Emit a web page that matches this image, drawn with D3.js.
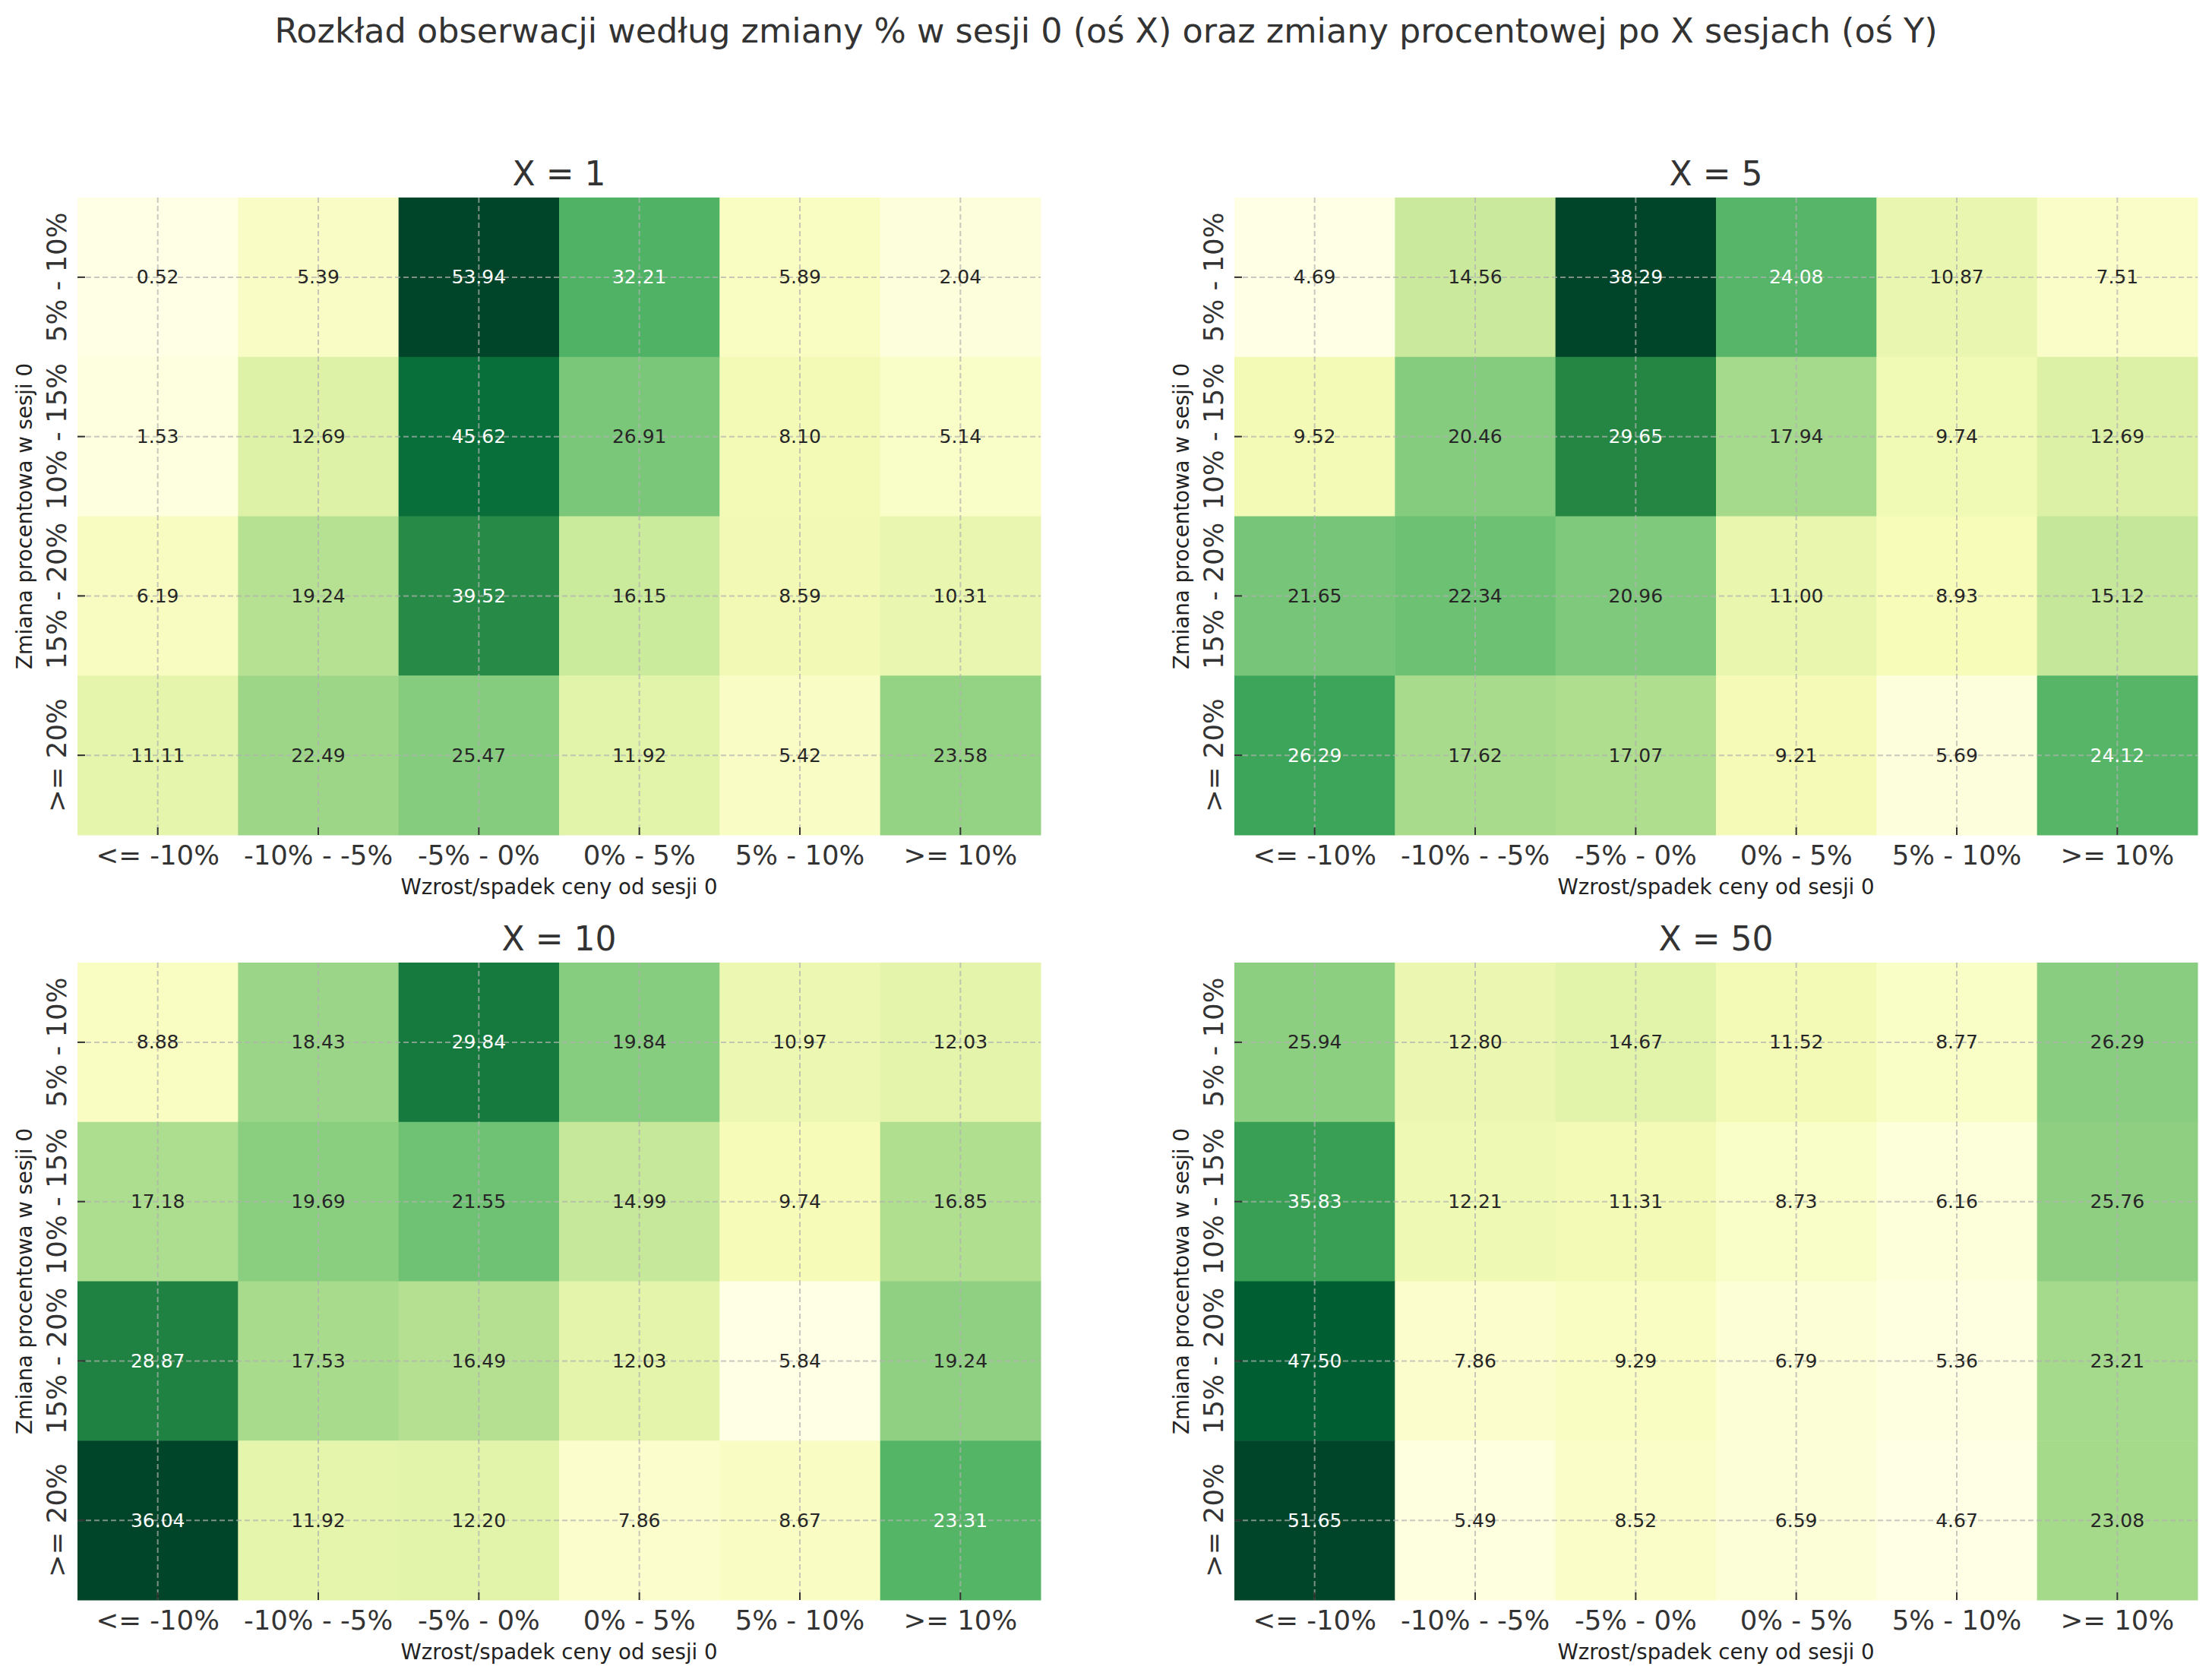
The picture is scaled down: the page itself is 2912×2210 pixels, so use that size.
<!DOCTYPE html>
<html>
<head>
<meta charset="utf-8">
<script src="https://cdn.jsdelivr.net/npm/d3@7"></script>
<style>
  body { margin: 0; background: #fff; }
  text { font-family: "DejaVu Sans", sans-serif; }
</style>
</head>
<body>
<div id="chart"></div>
<script>
// categories
var xCats = ["<= -10%", "-10% - -5%", "-5% - 0%", "0% - 5%", "5% - 10%", ">= 10%"];
var yCats = ["5% - 10%", "10% - 15%", "15% - 20%", ">= 20%"];
var panelTitles = ["X = 1", "X = 5", "X = 10", "X = 50"];

// values, one row per yCats entry
var valsX1 = [
    [0.52, 5.39, 53.94, 32.21, 5.89, 2.04],
    [1.53, 12.69, 45.62, 26.91, 8.10, 5.14],
    [6.19, 19.24, 39.52, 16.15, 8.59, 10.31],
    [11.11, 22.49, 25.47, 11.92, 5.42, 23.58]
];
var valsX5 = [
    [4.69, 14.56, 38.29, 24.08, 10.87, 7.51],
    [9.52, 20.46, 29.65, 17.94, 9.74, 12.69],
    [21.65, 22.34, 20.96, 11.00, 8.93, 15.12],
    [26.29, 17.62, 17.07, 9.21, 5.69, 24.12]
];
var valsX10 = [
    [8.88, 18.43, 29.84, 19.84, 10.97, 12.03],
    [17.18, 19.69, 21.55, 14.99, 9.74, 16.85],
    [28.87, 17.53, 16.49, 12.03, 5.84, 19.24],
    [36.04, 11.92, 12.20, 7.86, 8.67, 23.31]
];
var valsX50 = [
    [25.94, 12.80, 14.67, 11.52, 8.77, 26.29],
    [35.83, 12.21, 11.31, 8.73, 6.16, 25.76],
    [47.50, 7.86, 9.29, 6.79, 5.36, 23.21],
    [51.65, 5.49, 8.52, 6.59, 4.67, 23.08]
];
var panelValues = [valsX1, valsX5, valsX10, valsX50];

// YlGn (colorbrewer 9, as in matplotlib)
var ylgn = ["#ffffe5", "#f7fcb9", "#d9f0a3", "#addd8e", "#78c679", "#41ab5d", "#238443", "#006837", "#004529"];

var W = 2912, H = 2210;
var pw = 1268, ph = 839;
var lefts = [102, 1625], tops = [260, 1267];

var svg = d3.select("#chart")
    .append("svg")
    .attr("width", W)
    .attr("height", H);

svg.append("text")
    .attr("x", W / 2)
    .attr("y", 56)
    .attr("text-anchor", "middle")
    .style("font-size", "44.5px")
    .style("fill", "#333")
    .text("Rozkład obserwacji według zmiany % w sesji 0 (oś X) oraz zmiany procentowej po X sesjach (oś Y)");

function lum(c) {
    var rgb = d3.rgb(c);
    var f = function (v) {
        v = v / 255;
        return v <= 0.03928 ? v / 12.92 : Math.pow((v + 0.055) / 1.055, 2.4);
    };
    return 0.2126 * f(rgb.r) + 0.7152 * f(rgb.g) + 0.0722 * f(rgb.b);
}

var x = d3.scaleBand().domain(xCats).range([0, pw]).padding(0);
var y = d3.scaleBand().domain(yCats).range([0, ph]).padding(0);

panelValues.forEach(function (vals, p) {
    var g = svg.append("g")
        .attr("transform", "translate(" + lefts[p % 2] + "," + tops[Math.floor(p / 2)] + ")");

    var flat = [];
    vals.forEach(function (row, i) {
        row.forEach(function (v, j) {
            flat.push({ r: yCats[i], c: xCats[j], v: v });
        });
    });
    var mn = d3.min(flat, d => d.v), mx = d3.max(flat, d => d.v);
    var color = d3.scaleLinear()
        .domain(ylgn.map((c, i) => mn + i * (mx - mn) / 8))
        .range(ylgn)
        .interpolate(d3.interpolateRgb);

    // cells
    g.selectAll("rect.cell")
        .data(flat)
        .enter()
        .append("rect")
        .attr("class", "cell")
        .attr("x", d => x(d.c))
        .attr("y", d => y(d.r))
        .attr("width", x.bandwidth() + 0.5)
        .attr("height", y.bandwidth() + 0.5)
        .attr("fill", d => color(d.v));

    // dashed grid
    g.selectAll("line.vg")
        .data(xCats)
        .enter()
        .append("line")
        .attr("x1", d => x(d) + x.bandwidth() / 2)
        .attr("x2", d => x(d) + x.bandwidth() / 2)
        .attr("y1", 0)
        .attr("y2", ph)
        .attr("stroke", "#b0b0b0")
        .attr("stroke-opacity", 0.7)
        .attr("stroke-width", 2)
        .attr("stroke-dasharray", "7,4");
    g.selectAll("line.hg")
        .data(yCats)
        .enter()
        .append("line")
        .attr("y1", d => y(d) + y.bandwidth() / 2)
        .attr("y2", d => y(d) + y.bandwidth() / 2)
        .attr("x1", 0)
        .attr("x2", pw)
        .attr("stroke", "#b0b0b0")
        .attr("stroke-opacity", 0.7)
        .attr("stroke-width", 2)
        .attr("stroke-dasharray", "7,4");

    // annotations
    g.selectAll("text.ann")
        .data(flat)
        .enter()
        .append("text")
        .attr("class", "ann")
        .attr("x", d => x(d.c) + x.bandwidth() / 2)
        .attr("y", d => y(d.r) + y.bandwidth() / 2)
        .attr("text-anchor", "middle")
        .attr("dominant-baseline", "central")
        .style("font-size", "25px")
        .style("fill", d => lum(color(d.v)) > 0.408 ? "#262626" : "#ffffff")
        .text(d => d.v.toFixed(2));

    // x axis
    var xa = g.append("g")
        .attr("transform", "translate(0," + ph + ")")
        .call(d3.axisBottom(x).tickSize(-10));
    xa.select(".domain").remove();
    xa.selectAll(".tick line").attr("stroke", "#333").attr("stroke-width", 2);
    xa.selectAll(".tick text")
        .attr("y", 39)
        .attr("dy", null)
        .style("font-size", "35.5px")
        .style("fill", "#333")
        .style("font-family", "DejaVu Sans");

    // y axis
    var ya = g.append("g")
        .call(d3.axisLeft(y).tickSize(-10));
    ya.select(".domain").remove();
    ya.selectAll(".tick line").attr("stroke", "#333").attr("stroke-width", 2);
    ya.selectAll(".tick text")
        .attr("x", null)
        .attr("dy", null)
        .attr("text-anchor", "middle")
        .attr("transform", "translate(-15,0) rotate(-90)")
        .style("font-size", "35.5px")
        .style("fill", "#333")
        .style("font-family", "DejaVu Sans");

    // labels
    g.append("text")
        .attr("x", pw / 2)
        .attr("y", -16)
        .attr("text-anchor", "middle")
        .style("font-size", "44px")
        .style("fill", "#333")
        .text(panelTitles[p]);

    g.append("text")
        .attr("x", pw / 2)
        .attr("y", ph + 78)
        .attr("text-anchor", "middle")
        .style("font-size", "27.6px")
        .style("fill", "#222")
        .text("Wzrost/spadek ceny od sesji 0");

    g.append("text")
        .attr("transform", "translate(-60," + (ph / 2) + ") rotate(-90)")
        .attr("text-anchor", "middle")
        .style("font-size", "27.6px")
        .style("fill", "#222")
        .text("Zmiana procentowa w sesji 0");
});
</script>
</body>
</html>
